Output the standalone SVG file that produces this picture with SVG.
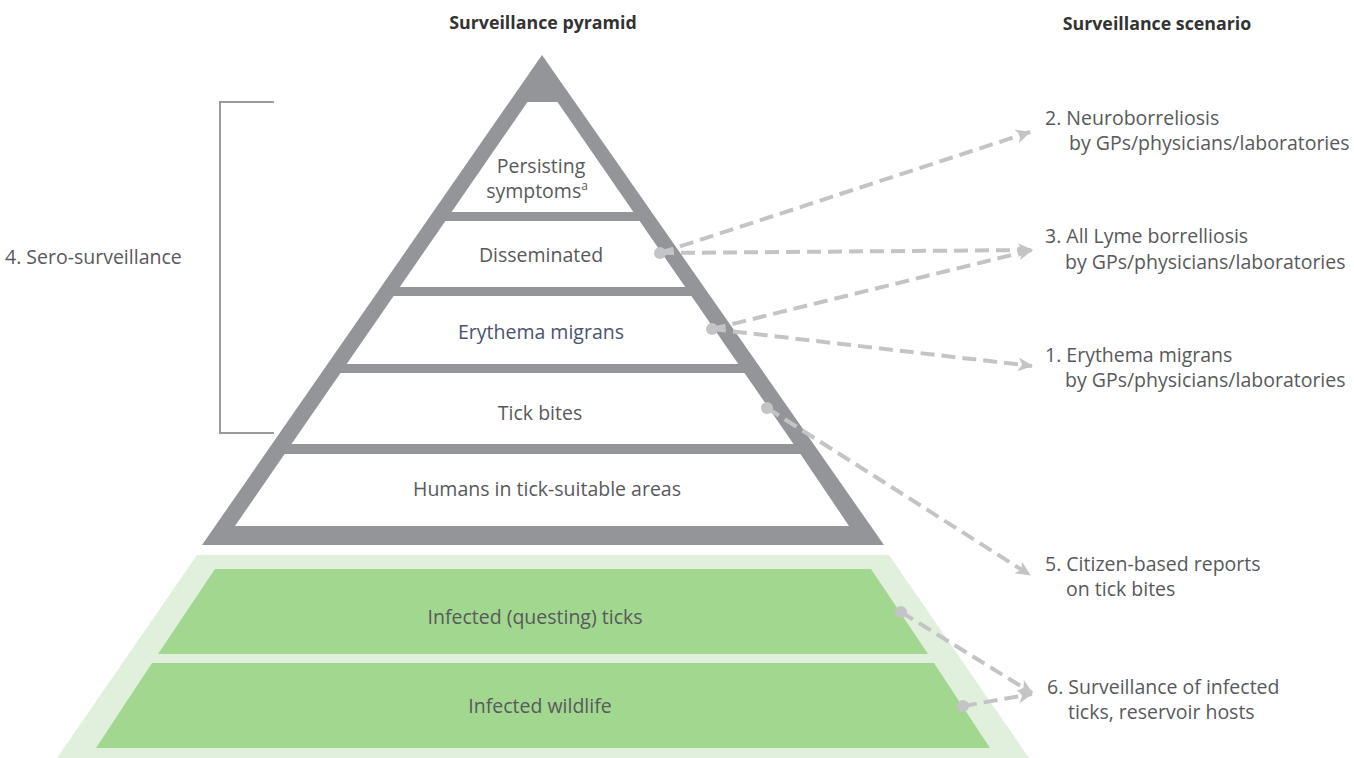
<svg xmlns="http://www.w3.org/2000/svg" width="1354" height="758" viewBox="0 0 1354 758">
<defs>
<style>
.t{font-family:"Open Sans","Noto Sans","Liberation Sans",sans-serif;font-size:19.5px;fill:#58595b}
.c{text-anchor:middle}
.b{font-weight:bold;font-size:17.8px;fill:#333}
.em{fill:#4a5370}
.con{fill:none;stroke:#c4c4c6;stroke-width:4;stroke-dasharray:14 7;marker-end:url(#arr)}
.dot{fill:#c4c4c6}
.wt{fill:#fff}
</style>
<marker id="arr" markerUnits="userSpaceOnUse" markerWidth="16" markerHeight="14" refX="14" refY="7" orient="auto">
<path d="M0,0 L15,7 L0,14 L4,7 z" fill="#c4c4c6" stroke="none"/>
</marker>
</defs>
<rect width="1354" height="758" fill="#fff"/>

<text class="t b c" x="543" y="29">Surveillance pyramid</text>
<text class="t b c" x="1157" y="30">Surveillance scenario</text>

<g id="bracket">
<path d="M274,102 H220 V433 H274" fill="none" stroke="#9b9b9d" stroke-width="2"/>
<text class="t" x="5" y="264">4. Sero-surveillance</text>
</g>

<g id="green-base">
<polygon points="197,555 889,555 1029,758 57,758" fill="#e0f0dc"/>
</g>
<g id="ticks">
<polygon points="215,569 871,569 928,654 158,654" fill="#a1d78f"/>
<text class="t c" x="535" y="624">Infected (questing) ticks</text>
</g>
<g id="wildlife">
<polygon points="152,663 934,663 990,748 96,748" fill="#a1d78f"/>
<text class="t c" x="540" y="713">Infected wildlife</text>
</g>

<g id="pyramid-frame">
<polygon points="542,55 884,545 202,545" fill="#939598"/>
</g>
<g id="persisting">
<polygon class="wt" points="527.5,102 557.5,102 633.4,212 451.6,212"/>
<text class="t c" x="541" y="173">Persisting</text>
<text class="t c" x="537" y="198">symptoms<tspan font-size="12" dy="-8">a</tspan></text>
</g>
<g id="disseminated">
<polygon class="wt" points="445.4,221 639.6,221 685.2,287 399.8,287"/>
<text class="t c" x="541" y="262">Disseminated</text>
</g>
<g id="erythema">
<polygon class="wt" points="393.6,296 691.4,296 738.3,364 346.7,364"/>
<text class="t c em" x="541" y="339">Erythema migrans</text>
</g>
<g id="tickbites">
<polygon class="wt" points="340.5,373 744.5,373 793.5,444 291.5,444"/>
<text class="t c" x="540" y="420">Tick bites</text>
</g>
<g id="humans">
<polygon class="wt" points="284.6,454 800.4,454 849,526 235,526"/>
<text class="t c" x="547" y="496">Humans in tick-suitable areas</text>
</g>

<g id="connectors">
<line class="con" x1="660" y1="253" x2="1030" y2="132"/>
<line class="con" x1="660" y1="253" x2="1032" y2="250"/>
<line class="con" x1="712" y1="329" x2="1032" y2="250"/>
<line class="con" x1="712" y1="329" x2="1032" y2="366"/>
<line class="con" x1="767" y1="408" x2="1030" y2="575"/>
<line class="con" x1="901" y1="612" x2="1032" y2="693"/>
<line class="con" x1="963" y1="706" x2="1032" y2="694"/>
<circle class="dot" cx="660" cy="253" r="6"/>
<circle class="dot" cx="712" cy="329" r="6"/>
<circle class="dot" cx="767" cy="408" r="6"/>
<circle class="dot" cx="901" cy="612" r="6"/>
<circle class="dot" cx="963" cy="706" r="6"/>
</g>

<g id="scenario2">
<text class="t" x="1045" y="125">2. Neuroborreliosis</text>
<text class="t" x="1069" y="150">by GPs/physicians/laboratories</text>
</g>
<g id="scenario3">
<text class="t" x="1045" y="243">3. All Lyme borrelliosis</text>
<text class="t" x="1065" y="269">by GPs/physicians/laboratories</text>
</g>
<g id="scenario1">
<text class="t" x="1045" y="362">1. Erythema migrans</text>
<text class="t" x="1065" y="387">by GPs/physicians/laboratories</text>
</g>
<g id="scenario5">
<text class="t" x="1045" y="571">5. Citizen-based reports</text>
<text class="t" x="1066" y="596">on tick bites</text>
</g>
<g id="scenario6">
<text class="t" x="1047" y="694">6. Surveillance of infected</text>
<text class="t" x="1068" y="719">ticks, reservoir hosts</text>
</g>
</svg>
